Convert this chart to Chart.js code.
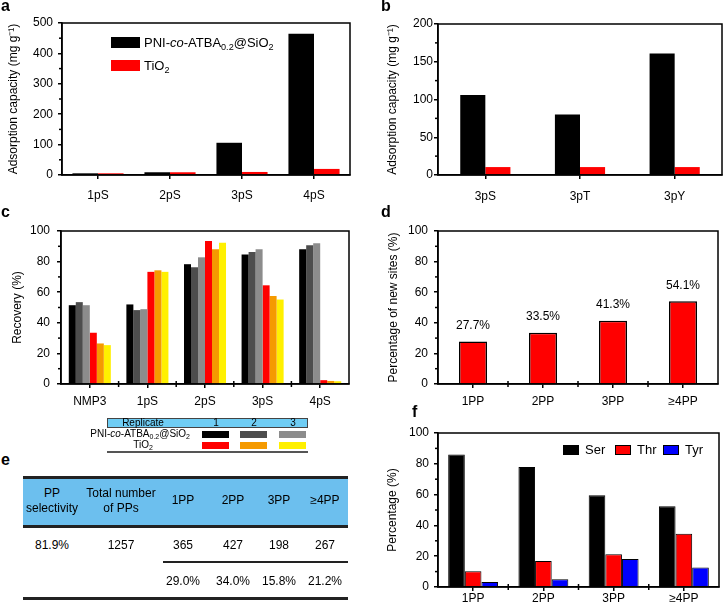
<!DOCTYPE html>
<html>
<head>
<meta charset="utf-8">
<script src="https://cdn.jsdelivr.net/npm/chart.js@4.4.0/dist/chart.umd.min.js"></script>
<style>
body { margin: 0; background: #fff; font-family: "Liberation Sans", Arial, sans-serif; color: #000; }
#fig { position: relative; width: 723px; height: 610px; overflow: hidden; }
canvas { position: absolute; }
.abs { position: absolute; white-space: nowrap; }
.letter { position: absolute; font-weight: bold; font-size: 16px; line-height: 16px; }
.sub { font-size: 0.7em; vertical-align: -0.3em; }
.cell { position: absolute; width: 100px; text-align: center; font-size: 12px; line-height: 14px; }
.rule { position: absolute; background: #222; }
</style>
</head>
<body>
<div id="fig">
  <canvas id="chartA" width="360" height="210" style="left:0;top:0"></canvas>
  <canvas id="chartB" width="353" height="210" style="left:370px;top:0"></canvas>
  <canvas id="chartC" width="360" height="225" style="left:0;top:195px"></canvas>
  <canvas id="chartD" width="353" height="225" style="left:370px;top:195px"></canvas>
  <canvas id="chartF" width="353" height="210" style="left:370px;top:400px"></canvas>

  <div class="letter" style="left:1px;top:-2px">a</div>
  <div class="letter" style="left:381px;top:-2px">b</div>
  <div class="letter" style="left:1px;top:204px">c</div>
  <div class="letter" style="left:381px;top:204px">d</div>
  <div class="letter" style="left:1px;top:452px">e</div>
  <div class="letter" style="left:412px;top:404px">f</div>

  <!-- legend a -->
  <div class="abs" style="left:111px;top:37px;width:29px;height:11px;background:#000"></div>
  <div class="abs" style="left:144px;top:35px;font-size:13px;line-height:15px">PNI-<i>co</i>-ATBA<span class="sub">0.2</span>@SiO<span class="sub">2</span></div>
  <div class="abs" style="left:111px;top:60px;width:29px;height:11px;background:#f00"></div>
  <div class="abs" style="left:144px;top:58px;font-size:13px;line-height:15px">TiO<span class="sub">2</span></div>

  <!-- legend f -->
  <div id="legendF"></div>

  <!-- replicate legend for c -->
  <div class="abs" style="left:107px;top:418px;width:201px;height:10px;background:#6fcdf4;border:1px solid #444;box-sizing:border-box"></div>
  <div class="abs" style="left:113px;top:417px;width:60px;text-align:center;font-size:10px;line-height:12px">Replicate</div>
  <div class="abs" style="left:90px;top:428px;width:100px;text-align:right;font-size:10px;line-height:12px">PNI-<i>co</i>-ATBA<span class="sub">0.2</span>@SiO<span class="sub">2</span></div>
  <div class="abs" style="left:93px;top:439px;width:100px;text-align:center;font-size:10px;line-height:12px">TiO<span class="sub">2</span></div>
  <div id="repSwatches"></div>
  <div class="abs" style="left:107px;top:451px;width:201px;height:2px;background:#555"></div>

  <!-- table e -->
  <div class="rule" style="left:23px;top:476px;width:325px;height:3px"></div>
  <div class="abs" style="left:23px;top:479px;width:325px;height:46px;background:#6cbfee"></div>
  <div class="rule" style="left:23px;top:525px;width:325px;height:3px"></div>
  <div class="rule" style="left:163px;top:561px;width:185px;height:1.5px"></div>
  <div class="rule" style="left:23px;top:597px;width:325px;height:2.5px"></div>
  <div id="tableE"></div>
</div>

<script>
// a: adsorption capacity
var aCategories = ['1pS', '2pS', '3pS', '4pS'];
var aPolymer = [5.5, 9, 106, 465];
var aTiO2 = [5.5, 9, 10, 20];

// b
var bCategories = ['3pS', '3pT', '3pY'];
var bPolymer = [106, 80, 161];
var bTiO2 = [10.5, 10.5, 10.5];

// c: recovery, 3 replicates each
var cCategories = ['NMP3', '1pS', '2pS', '3pS', '4pS'];
var cPolymer1 = [51.5, 52, 78.3, 84.6, 88];
var cPolymer2 = [53.5, 48.3, 76.3, 86.3, 90.7];
var cPolymer3 = [51.5, 48.9, 82.8, 88, 92];
var cTiO2_1 = [33.5, 73.3, 93.5, 64.5, 2.5];
var cTiO2_2 = [26.5, 74.3, 88, 57.5, 2];
var cTiO2_3 = [25.4, 73.3, 92.4, 55.2, 1.8];
var repColorsPolymer = ['#000000', '#4d4d4d', '#8c8c8c'];
var repColorsTiO2 = ['#ff0000', '#f59a00', '#fff000'];
var repLabels = ['1', '2', '3'];

// d: new sites
var dCategories = ['1PP', '2PP', '3PP', '≥4PP'];
var dNewSites = [27.7, 33.5, 41.3, 54.1];

// e: table
var eHeaders = [['PP', 'selectivity'], ['Total number', 'of PPs'], ['1PP'], ['2PP'], ['3PP'], ['≥4PP']];
var eRow = ['81.9%', '1257', '365', '427', '198', '267'];
var ePercents = ['29.0%', '34.0%', '15.8%', '21.2%'];

// f: residue percentage
var fCategories = ['1PP', '2PP', '3PP', '≥4PP'];
var fSer = [86, 78, 59.5, 52.4];
var fThr = [10.2, 16.9, 21.2, 34.6];
var fTyr = [3.2, 5, 18.2, 12.6];
var fSeries = ['Ser', 'Thr', 'Tyr'];
var fColors = ['#000000', '#ff0000', '#0000ff'];

Chart.defaults.font.family = '"Liberation Sans", Arial, sans-serif';
Chart.defaults.font.size = 12;
Chart.defaults.color = '#000';

// 枠と補助目盛り
var framePlugin = {
  id: 'frame',
  afterDraw: function(chart, args, opts) {
    var a = chart.chartArea, c = chart.ctx;
    c.save();
    c.strokeStyle = '#000';
    c.lineWidth = 1.5;
    c.strokeRect(a.left, a.top, a.right - a.left, a.bottom - a.top);
    var y = chart.scales.y;
    for (var i = 0; i < y.ticks.length - 1; i++) {
      var py = y.getPixelForValue((y.ticks[i].value + y.ticks[i + 1].value) / 2);
      c.beginPath(); c.moveTo(a.left - 3, py); c.lineTo(a.left, py); c.stroke();
    }
    if (opts.boundaryTicks) {
      var n = chart.data.labels.length;
      var w = (a.right - a.left) / n;
      for (var j = 1; j < n; j++) {
        var px = a.left + j * w;
        c.beginPath(); c.moveTo(px, a.bottom - 3); c.lineTo(px, a.bottom + 3); c.stroke();
      }
    }
    c.restore();
  }
};

// d の数値ラベル
var valueLabelPlugin = {
  id: 'valueLabels',
  afterDatasetsDraw: function(chart) {
    var c = chart.ctx;
    var meta = chart.getDatasetMeta(0);
    c.save();
    c.font = '12px "Liberation Sans", Arial, sans-serif';
    c.fillStyle = '#000';
    c.textAlign = 'center';
    c.textBaseline = 'middle';
    meta.data.forEach(function(bar, i) {
      c.fillText(dNewSites[i].toFixed(1) + '%', bar.x, bar.y - 16);
    });
    c.restore();
  }
};

function ds(label, data, color, catPct, border) {
  return {
    label: label, data: data, backgroundColor: color,
    borderColor: '#000', borderWidth: border || 0,
    categoryPercentage: catPct, barPercentage: 1
  };
}

function makeChart(id, labels, datasets, cfg) {
  return new Chart(document.getElementById(id), {
    type: 'bar',
    data: { labels: labels, datasets: datasets },
    plugins: [framePlugin].concat(cfg.plugins || []),
    options: {
      responsive: false,
      animation: false,
      layout: { padding: cfg.padding },
      plugins: {
        legend: { display: false },
        tooltip: { enabled: false },
        frame: { boundaryTicks: !!cfg.boundaryTicks }
      },
      scales: {
        x: {
          grid: { offset: false, drawOnChartArea: false, tickLength: 4, color: '#000', lineWidth: 1.5 },
          border: { color: '#000', width: 1.5 },
          ticks: { padding: cfg.xPad, maxRotation: 0 },
          afterFit: function(s) { s.height = cfg.xHeight; }
        },
        y: {
          min: 0, max: cfg.yMax,
          grid: { drawOnChartArea: false, tickLength: 4, color: '#000', lineWidth: 1.5 },
          border: { color: '#000', width: 1.5 },
          ticks: { stepSize: cfg.yStep, padding: cfg.yPad },
          title: { display: true, text: cfg.yTitle, padding: { top: cfg.titlePad, bottom: 0 } },
          afterFit: function(s) { s.width = cfg.yWidth; }
        }
      }
    }
  });
}

makeChart('chartA', aCategories, [
  ds('PNI-co-ATBA0.2@SiO2', aPolymer, '#000', 0.71),
  ds('TiO2', aTiO2, '#ff0000', 0.71)
], { padding: { top: 23, right: 10, left: 0, bottom: 0 }, yWidth: 62, xHeight: 35,
     yMax: 500, yStep: 100, yPad: 5, xPad: 9, titlePad: 6,
     yTitle: 'Adsorption capacity (mg g⁻¹)' });

makeChart('chartB', bCategories, [
  ds('PNI-co-ATBA0.2@SiO2', bPolymer, '#000', 0.53),
  ds('TiO2', bTiO2, '#ff0000', 0.53)
], { padding: { top: 24, right: 1, left: 0, bottom: 0 }, yWidth: 68, xHeight: 35,
     yMax: 200, yStep: 50, yPad: 1, xPad: 10, titlePad: 15,
     yTitle: 'Adsorption capacity (mg g⁻¹)' });

makeChart('chartC', cCategories, [
  ds('PNI 1', cPolymer1, repColorsPolymer[0], 0.73),
  ds('PNI 2', cPolymer2, repColorsPolymer[1], 0.73),
  ds('PNI 3', cPolymer3, repColorsPolymer[2], 0.73),
  ds('TiO2 1', cTiO2_1, repColorsTiO2[0], 0.73),
  ds('TiO2 2', cTiO2_2, repColorsTiO2[1], 0.73),
  ds('TiO2 3', cTiO2_3, repColorsTiO2[2], 0.73)
], { padding: { top: 36, right: 11, left: 0, bottom: 0 }, yWidth: 61, xHeight: 36,
     yMax: 100, yStep: 20, yPad: 7, xPad: 6, titlePad: 10, boundaryTicks: true,
     yTitle: 'Recovery (%)' });

makeChart('chartD', dCategories, [
  ds('new sites', dNewSites, '#ff0000', 0.4, 1.5)
], { padding: { top: 36, right: 5, left: 0, bottom: 0 }, yWidth: 68, xHeight: 36,
     yMax: 100, yStep: 20, yPad: 6, xPad: 6, titlePad: 16, boundaryTicks: true,
     yTitle: 'Percentage of new sites (%)', plugins: [valueLabelPlugin] });

makeChart('chartF', fCategories, [
  ds(fSeries[0], fSer, fColors[0], 0.71, 1),
  ds(fSeries[1], fThr, fColors[1], 0.71, 1),
  ds(fSeries[2], fTyr, fColors[2], 0.71, 1)
], { padding: { top: 33, right: 4, left: 0, bottom: 0 }, yWidth: 68, xHeight: 23,
     yMax: 100, yStep: 20, yPad: 5, xPad: 0, titlePad: 15, boundaryTicks: true,
     yTitle: 'Percentage (%)' });

// legend f
var fBoxX = [563, 615, 663];
var lf = '';
fSeries.forEach(function(s, i) {
  lf += '<div class="abs" style="left:' + fBoxX[i] + 'px;top:445px;width:16px;height:10px;background:' + fColors[i] + ';border:1px solid #000;box-sizing:border-box"></div>';
  lf += '<div class="abs" style="left:' + (fBoxX[i] + 22) + 'px;top:442px;font-size:13px;line-height:15px">' + s + '</div>';
});
document.getElementById('legendF').innerHTML = lf;

// replicate legend
var repX = [202, 240, 279];
var html = '';
repLabels.forEach(function(t, i) {
  html += '<div class="abs" style="left:' + (repX[i] - 10) + 'px;top:417px;width:48px;text-align:center;font-size:10px;line-height:12px">' + t + '</div>';
  html += '<div class="abs" style="left:' + repX[i] + 'px;top:431px;width:27px;height:7px;background:' + repColorsPolymer[i] + '"></div>';
  html += '<div class="abs" style="left:' + repX[i] + 'px;top:442px;width:27px;height:7px;background:' + repColorsTiO2[i] + '"></div>';
});
document.getElementById('repSwatches').innerHTML = html;

// table e
var colX = [52, 121, 183, 233, 279, 325];
var t = '';
eHeaders.forEach(function(h, i) {
  if (h.length === 2) {
    t += '<div class="cell" style="left:' + (colX[i] - 50) + 'px;top:486px">' + h[0] + '</div>';
    t += '<div class="cell" style="left:' + (colX[i] - 50) + 'px;top:501px">' + h[1] + '</div>';
  } else {
    t += '<div class="cell" style="left:' + (colX[i] - 50) + 'px;top:493px">' + h[0] + '</div>';
  }
});
eRow.forEach(function(v, i) {
  t += '<div class="cell" style="left:' + (colX[i] - 50) + 'px;top:538px">' + v + '</div>';
});
ePercents.forEach(function(v, i) {
  t += '<div class="cell" style="left:' + (colX[i + 2] - 50) + 'px;top:574px">' + v + '</div>';
});
document.getElementById('tableE').innerHTML = t;
</script>
</body>
</html>
